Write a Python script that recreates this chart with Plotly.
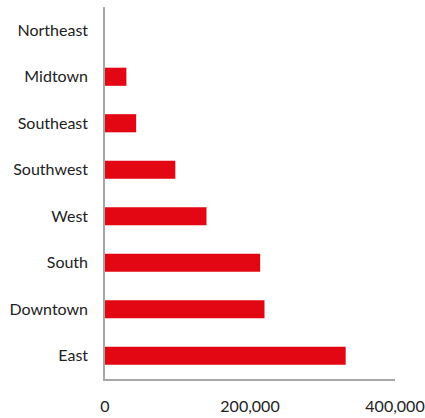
import plotly.graph_objects as go

regions = ["East", "Downtown", "South", "West", "Southwest", "Southeast", "Midtown", "Northeast"]
values = [332000, 220000, 214000, 140000, 97000, 43000, 29500, 0]
x_ticks = [0, 200000, 400000]
x_tick_labels = ["0", "200,000", "400,000"]

fig = go.Figure(
    go.Bar(
        x=values,
        y=regions,
        orientation="h",
        marker=dict(color="#E30613", line=dict(width=0)),
        width=0.39,
    )
)

fig.update_layout(
    width=425,
    height=418,
    margin=dict(l=105, r=30, t=7, b=39, autoexpand=False),
    plot_bgcolor="white",
    paper_bgcolor="white",
    font=dict(family="Lato", size=16, color="#222222"),
    showlegend=False,
)
fig.update_xaxes(
    range=[0, 400000],
    tickvals=x_ticks,
    ticktext=x_tick_labels,
    showgrid=False,
    zeroline=False,
    showline=True,
    linecolor="#a6a6a6",
    linewidth=1.5,
    ticks="",
    ticklabelstandoff=12,
    automargin=False,
    fixedrange=True,
)
fig.update_yaxes(
    categoryorder="array",
    categoryarray=regions,
    range=[-0.5, len(regions) - 0.5],
    showgrid=False,
    zeroline=False,
    showline=True,
    linecolor="#a6a6a6",
    linewidth=1.5,
    ticks="",
    ticklabelstandoff=12,
    automargin=False,
    fixedrange=True,
)

fig.write_html("out.html")
